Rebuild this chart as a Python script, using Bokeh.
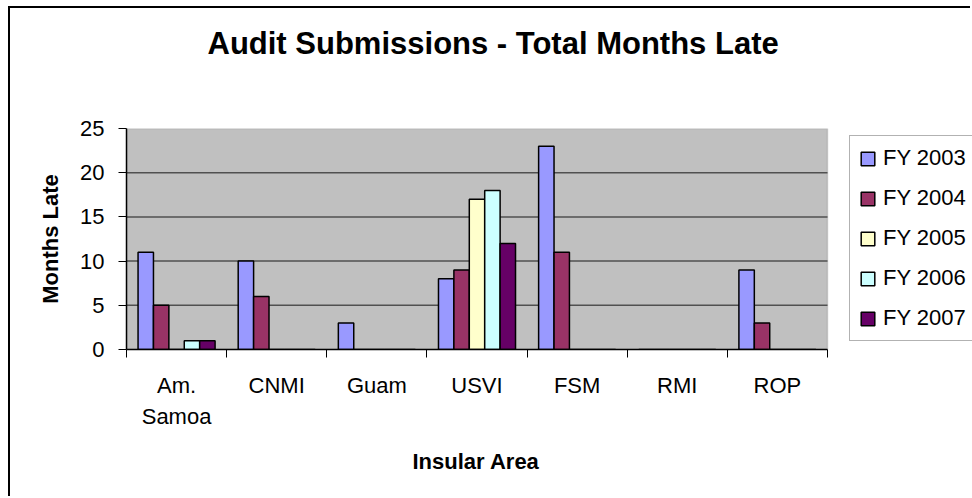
import numpy as np
from bokeh.plotting import figure
from bokeh.models import (Range1d, FixedTicker, CustomJSTickFormatter, Legend, LegendItem,
                          ColumnDataSource, Title, BoxAnnotation)
from bokeh.embed import file_html
from bokeh.resources import INLINE

# ---- data ----
categories = ["Am. Samoa", "CNMI", "Guam", "USVI", "FSM", "RMI", "ROP"]
tick_labels = ["Am.\nSamoa", "CNMI", "Guam", "USVI", "FSM", "RMI", "ROP"]
series_names = ["FY 2003", "FY 2004", "FY 2005", "FY 2006", "FY 2007"]
fy2003 = [11, 10, 3, 8, 23, 0, 9]
fy2004 = [5, 6, 0, 9, 11, 0, 3]
fy2005 = [0, 0, 0, 17, 0, 0, 0]
fy2006 = [1, 0, 0, 18, 0, 0, 0]
fy2007 = [1, 0, 0, 12, 0, 0, 0]
series_values = [fy2003, fy2004, fy2005, fy2006, fy2007]
series_colors = ["#9999FF", "#993366", "#FFFFCC", "#CCFFFF", "#660066"]
y_ticks = [0, 5, 10, 15, 20, 25]
chart_title = "Audit Submissions - Total Months Late"
x_title = "Insular Area"
y_title = "Months Late"

FONT = "Liberation Sans"

n = len(categories)
y_max = y_ticks[-1]

# layout (pixels)
W, H = 962, 490
LEFT, TOP, BOTTOM = 116, 120, 149
PLOT_W = 701                     # width of the grey plot area
FRAME_W = W - LEFT               # frame extends under the legend
x_end = n * FRAME_W / PLOT_W

p = figure(width=W, height=H, output_backend="svg", toolbar_location=None,
           x_range=Range1d(0, x_end), y_range=Range1d(0, y_max),
           min_border_left=LEFT, min_border_right=0, min_border_top=TOP,
           min_border_bottom=BOTTOM,
           background_fill_color="white", border_fill_color="white",
           title=chart_title)
p.styles = {"margin-left": "8px", "margin-top": "6px",
            "border-left": "2px solid black", "border-top": "2px solid black"}
p.outline_line_color = None

p.title.align = "left"
p.title.offset = 81
p.title.text_font = FONT
p.title.text_font_size = "31px"
p.title.text_font_style = "bold"
p.title.text_color = "black"
p.title.standoff = 0
# spacer between the title and the plot area
p.add_layout(Title(text=" ", text_font_size="1px", standoff=65), "above")

# grey plot area
p.add_layout(BoxAnnotation(left=0, right=n, bottom=0, top=y_max,
                           fill_color="#C0C0C0", fill_alpha=1,
                           line_color="#808080", line_width=1.5,
                           level="underlay"))

# horizontal gridlines inside the plot area
grid_vals = y_ticks[1:-1]
p.segment(x0=[0] * len(grid_vals), x1=[n] * len(grid_vals), y0=grid_vals, y1=grid_vals,
          line_color="#505050", line_width=1.5)

bar_w = 1 / 6.5
centers = np.arange(n) + 0.5
items = []
for k, (name, vals, col) in enumerate(zip(series_names, series_values, series_colors)):
    src = ColumnDataSource(dict(x=centers + (k - 2) * bar_w, top=vals))
    r = p.vbar(x="x", top="top", width=bar_w, bottom=0, source=src,
               fill_color=col, line_color="black", line_width=1.5)
    items.append(LegendItem(label=name, renderers=[r]))

# axes
xa = p.xaxis[0]
xa.bounds = (0, n)
xa.ticker = FixedTicker(ticks=list(centers), minor_ticks=list(np.arange(n + 1)))
xa.formatter = CustomJSTickFormatter(args=dict(labels=tick_labels),
                                     code="return labels[Math.floor(tick)]")
xa.major_tick_out = 0
xa.major_tick_in = 0
xa.minor_tick_out = 8
xa.minor_tick_in = 0
xa.minor_tick_line_color = "black"
xa.minor_tick_line_width = 1
xa.axis_line_color = "black"
xa.axis_line_width = 1.5
xa.major_label_text_font = FONT
xa.major_label_text_font_size = "22px"
xa.major_label_text_color = "black"
xa.major_label_text_line_height = 1.25
xa.major_label_standoff = 15

# x axis title, centred under the grey plot area
p.add_layout(Title(text=x_title, align="left", offset=286, text_font=FONT,
                   text_font_size="22px", text_font_style="bold",
                   text_color="black", standoff=30), "below")

ya = p.yaxis[0]
ya.ticker = FixedTicker(ticks=y_ticks)
ya.major_tick_out = 8
ya.major_tick_in = 0
ya.minor_tick_out = 0
ya.minor_tick_in = 0
ya.major_tick_line_color = "black"
ya.axis_line_color = "black"
ya.axis_line_width = 1.5
ya.major_label_text_font = FONT
ya.major_label_text_font_size = "22px"
ya.major_label_text_color = "black"
ya.major_label_standoff = 14
ya.axis_label = y_title
ya.axis_label_text_font = FONT
ya.axis_label_text_font_size = "22px"
ya.axis_label_text_font_style = "bold"
ya.axis_label_text_color = "black"
ya.axis_label_standoff = 14

p.xgrid.visible = False
p.ygrid.visible = False

legend = Legend(items=items, location=(PLOT_W + 22, 8), orientation="vertical",
                label_text_font=FONT, label_text_font_size="22px",
                label_text_color="black",
                glyph_width=17, glyph_height=17, label_height=26,
                label_standoff=7, spacing=14, padding=9, margin=0,
                border_line_color="#666666", border_line_width=1,
                background_fill_color="white", background_fill_alpha=1)
p.add_layout(legend, "center")

open("out.html", "w").write(file_html(p, INLINE))
